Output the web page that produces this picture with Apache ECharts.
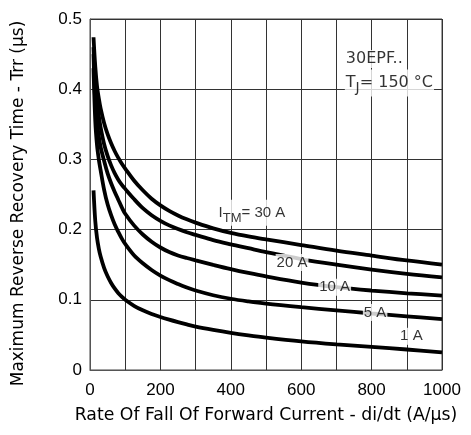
<!DOCTYPE html>
<html><head><meta charset="utf-8">
<script src="https://cdn.jsdelivr.net/npm/echarts@6/dist/echarts.min.js"></script>
<style>html,body{margin:0;padding:0;background:#fff}#c{width:471px;height:435px}</style>
</head><body><div id="c"></div>
<script>
// di/dt sample points (A/µs), shared by all curves
const diDt = [10, 15, 20, 25, 30, 40, 50, 60, 70, 80, 90, 100, 125, 150, 175, 200, 225, 250, 275, 300, 350, 400, 450, 500, 600, 700, 800, 900, 1000];
// Trr (µs) per forward current
const trr30A = [0.474, 0.432, 0.404, 0.387, 0.373, 0.352, 0.336, 0.323, 0.312, 0.3025, 0.2942, 0.287, 0.270, 0.256, 0.244, 0.2345, 0.2267, 0.2202, 0.2147, 0.210, 0.2018, 0.1953, 0.1902, 0.186, 0.178, 0.170, 0.163, 0.156, 0.150];
const trr20A = [0.46, 0.41, 0.382, 0.362, 0.346, 0.322, 0.305, 0.2915, 0.2805, 0.2715, 0.264, 0.258, 0.2435, 0.2305, 0.2205, 0.2125, 0.206, 0.2008, 0.1963, 0.1925, 0.185, 0.179, 0.1735, 0.168, 0.158, 0.150, 0.143, 0.137, 0.132];
const trr10A = [0.45, 0.38, 0.352, 0.333, 0.318, 0.298, 0.280, 0.266, 0.254, 0.243, 0.232, 0.2225, 0.206, 0.193, 0.1828, 0.1745, 0.168, 0.1632, 0.1595, 0.1562, 0.1498, 0.1437, 0.1382, 0.1332, 0.1245, 0.118, 0.1132, 0.1093, 0.106];
const trr5A = [0.43, 0.355, 0.32, 0.30, 0.285, 0.257, 0.236, 0.2205, 0.2075, 0.197, 0.1875, 0.1795, 0.1635, 0.152, 0.1425, 0.1345, 0.128, 0.1225, 0.1175, 0.1132, 0.1065, 0.1015, 0.0977, 0.0945, 0.0895, 0.085, 0.0805, 0.0765, 0.0726];
const trr1A = [0.256, 0.212, 0.188, 0.173, 0.162, 0.1455, 0.1335, 0.124, 0.1162, 0.1098, 0.1045, 0.100, 0.0915, 0.085, 0.0798, 0.0755, 0.0717, 0.0682, 0.0649, 0.0619, 0.0572, 0.053, 0.0494, 0.0462, 0.0408, 0.0365, 0.0328, 0.0292, 0.0252];
// curve labels: [x, y, text]
const curveLabels = [
  [460, 0.224, '{n|I}{s|TM}{n|= 30 A}'],
  [574, 0.153, '20 A'],
  [695, 0.118, '10 A'],
  [810, 0.082, '5 A'],
  [913, 0.048, '1 A']
];
const noteLabels = [
  [724, 0.443, '30EPF..'],
  [724, 0.409, '{m|T}{t|J}{m|= 150 °C}']
];
const xTicks = [0, 200, 400, 600, 800, 1000];

const F = 'Liberation Sans, Arial, sans-serif';
const D = 'DejaVu Sans, sans-serif';
function pairs(xs, ys){ return xs.map((x,i)=>[x, ys[i]]); }
function curve(ys){
  return {type:'line', data: pairs(diDt, ys), smooth: 0.35, symbol:'none',
    lineStyle:{color:'#000', width:3.8}, z: 3, silent:true};
}
const rich = {
  n:{fontFamily:F, fontSize:15, color:'#000'},
  s:{fontFamily:F, fontSize:13, color:'#000', padding:[11,0,0,0]},
  m:{fontFamily:D, fontSize:16, color:'#000'},
  t:{fontFamily:D, fontSize:14, color:'#000', padding:[11,0,0,0]}
};
const chart = echarts.init(document.getElementById('c'), null, {renderer:'canvas'});
chart.setOption({
  animation:false,
  backgroundColor:'#fff',
  grid:{left:90, right:29, top:19, bottom:65, show:true, borderColor:'#444', borderWidth:1},
  xAxis:{type:'value', min:0, max:1000, interval:100,
    axisLine:{show:true, lineStyle:{color:'#555'}}, axisTick:{show:false},
    splitLine:{show:true, lineStyle:{color:'#333', width:1}},
    axisLabel:{fontFamily:F, fontSize:17, color:'#000', margin:12,
      formatter: v => xTicks.includes(v) ? String(v) : ''},
    name:'Rate Of Fall Of Forward Current - di/dt (A/µs)', nameLocation:'middle', nameGap:37,
    nameTextStyle:{fontFamily:D, fontSize:17.3, color:'#000'}
  },
  yAxis:{type:'value', min:0, max:0.5, interval:0.1,
    axisLine:{show:true, lineStyle:{color:'#555'}}, axisTick:{show:false},
    splitLine:{show:true, lineStyle:{color:'#333', width:1}},
    axisLabel:{fontFamily:F, fontSize:17, color:'#000', margin:8},
    name:'Maximum Reverse Recovery Time - Trr (µs)', nameLocation:'middle', nameGap:63,
    nameTextStyle:{fontFamily:D, fontSize:17, color:'#000', padding:[0,18,0,0]}
  },
  series:[
    curve(trr30A), curve(trr20A), curve(trr10A), curve(trr5A), curve(trr1A),
    {type:'scatter', data: curveLabels, symbolSize:0, z:5, silent:true,
      label:{show:true, position:'inside', formatter: p => p.data[2], rich: rich,
        fontFamily:F, fontSize:15, color:'#000', backgroundColor:'#fff', padding:[1,1,1,1]}},
    {type:'scatter', data: noteLabels, symbolSize:0, z:5, silent:true,
      label:{show:true, position:'right', distance:0, formatter: p => p.data[2], rich: rich,
        fontFamily:D, fontSize:16, color:'#000', backgroundColor:'#fff', padding:[1,1,1,1]}}
  ]
});
</script></body></html>
